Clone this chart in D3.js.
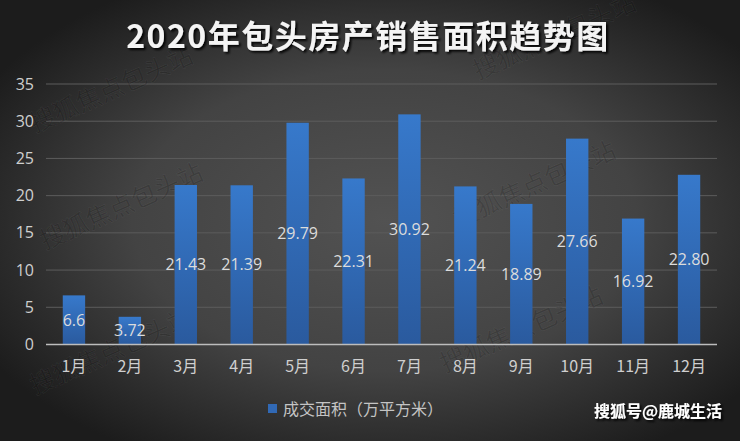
<!DOCTYPE html>
<html><head><meta charset="utf-8">
<script src="https://cdn.jsdelivr.net/npm/d3@7/dist/d3.min.js"></script>
<style>html,body{margin:0;padding:0;background:#2a2a2a;}svg{display:block;}</style>
</head><body>
<svg id="c" width="740" height="441"></svg>
<script>
const title = "2020年包头房产销售面积趋势图";
const months = ["1月","2月","3月","4月","5月","6月","7月","8月","9月","10月","11月","12月"];
const values = [6.6, 3.72, 21.43, 21.39, 29.79, 22.31, 30.92, 21.24, 18.89, 27.66, 16.92, 22.80];
const valueLabels = ["6.6","3.72","21.43","21.39","29.79","22.31","30.92","21.24","18.89","27.66","16.92","22.80"];
const yTicks = [0,5,10,15,20,25,30,35];
const seriesName = "成交面积（万平方米）";
const watermark = "搜狐焦点包头站";
const credit = "搜狐号@鹿城生活";

const W = 740, H = 441;
const svg = d3.select("#c");
const defs = svg.append("defs");
const bg = defs.append("radialGradient").attr("id","bg").attr("cx","52%").attr("cy","50%").attr("r","62%");
bg.append("stop").attr("offset","0%").attr("stop-color","#525252");
bg.append("stop").attr("offset","55%").attr("stop-color","#434343");
bg.append("stop").attr("offset","100%").attr("stop-color","#1c1c1c");
const bar = defs.append("linearGradient").attr("id","bar").attr("x1",0).attr("y1",0).attr("x2",0).attr("y2",1);
bar.append("stop").attr("offset","0%").attr("stop-color","#3779cb");
bar.append("stop").attr("offset","100%").attr("stop-color","#2a5a9e");
const sh = defs.append("filter").attr("id","sh").attr("x","-10%").attr("y","-30%").attr("width","120%").attr("height","160%");
sh.append("feDropShadow").attr("dx",2).attr("dy",2).attr("stdDeviation",1).attr("flood-color","#000").attr("flood-opacity",0.9);

svg.append("rect").attr("width",W).attr("height",H).attr("fill","url(#bg)");

const x = d3.scaleBand().domain(months).range([46,717]).paddingInner(0.6).paddingOuter(0.3);
const y = d3.scaleLinear().domain([0,35]).range([344.5,84]);

// gridlines
svg.append("g").selectAll("line").data(yTicks.filter(d=>d>0)).join("line")
  .attr("x1",46).attr("x2",717).attr("y1",d=>y(d)).attr("y2",d=>y(d))
  .attr("stroke","#5c5c5c").attr("stroke-width",1);

// watermarks
const wmPos = [[35,133],[45,250],[35,395],[458,228],[445,373],[478,80]];
svg.append("g").selectAll("text").data(wmPos).join("text")
  .attr("transform",d=>`translate(${d[0]},${d[1]}) rotate(-24)`)
  .attr("font-family","'Noto Sans CJK SC'").attr("font-size",25)
  .attr("fill","rgba(0,0,0,0.15)").attr("stroke","rgba(200,200,200,0.08)").attr("stroke-width",0.8)
  .text(watermark);

// bars
svg.append("g").selectAll("rect").data(values).join("rect")
  .attr("x",(d,i)=>x(months[i])).attr("width",x.bandwidth())
  .attr("y",d=>y(d)).attr("height",d=>y(0)-y(d))
  .attr("fill","url(#bar)");

// axis
const yAxis = d3.axisLeft(y).tickValues(yTicks).tickSize(0).tickPadding(12);
const gy = svg.append("g").attr("transform","translate(46,0)").call(yAxis);
gy.select(".domain").remove();
gy.selectAll("text").attr("font-family","'Open Sans','Noto Sans',sans-serif").attr("font-size",16).attr("fill","#cfcfcf").attr("x",-12);

const xAxis = d3.axisBottom(x).tickSize(0).tickPadding(16);
const gx = svg.append("g").attr("transform","translate(0,344.5)").call(xAxis);
gx.select(".domain").remove();
gx.selectAll("text").attr("font-family","'Noto Sans CJK SC'").attr("font-size",16).attr("fill","#cfcfcf");
svg.append("line").attr("x1",46).attr("x2",717).attr("y1",y(0)).attr("y2",y(0)).attr("stroke","#bdbdbd").attr("stroke-width",1.5);

// data labels
svg.append("g").selectAll("text").data(values).join("text")
  .attr("x",(d,i)=>x(months[i])+x.bandwidth()/2)
  .attr("y",d=>(y(d)+y(0))/2).attr("dy","0.35em")
  .attr("text-anchor","middle").attr("font-family","'Open Sans','Noto Sans',sans-serif").attr("font-size",16)
  .attr("fill","#dcdcdc").text((d,i)=>valueLabels[i]);

// title
svg.append("text").attr("x",368).attr("y",48).attr("text-anchor","middle")
  .attr("font-family","'Noto Sans CJK SC'").attr("font-weight",700).attr("font-size",32)
  .attr("letter-spacing",1.5)
  .attr("fill","#f4f4f4").attr("filter","url(#sh)").text(title);

// legend
svg.append("rect").attr("x",268).attr("y",404).attr("width",9).attr("height",9).attr("fill","#3169b5");
svg.append("text").attr("x",283).attr("y",409).attr("dy","0.35em").attr("font-family","'Noto Sans CJK SC'")
  .attr("font-size",16).attr("fill","#c4c4c4").text(seriesName);

// credit
svg.append("text").attr("x",722).attr("y",411).attr("dy","0.35em").attr("text-anchor","end")
  .attr("font-family","'Noto Sans CJK SC'").attr("font-weight",700).attr("font-size",16)
  .attr("fill","#ffffff").attr("filter","url(#sh)").text(credit);
</script>
</body></html>
